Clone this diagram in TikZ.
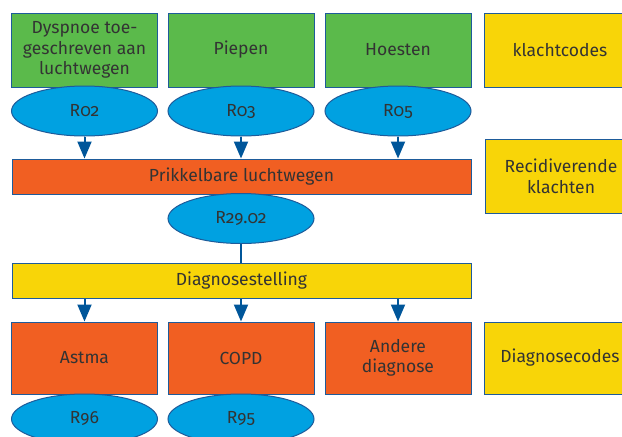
\documentclass[tikz,border=0pt]{standalone}
\usepackage{fontspec}
\setmainfont{Fira Sans}[Numbers=OldStyle]
\usetikzlibrary{shapes.geometric,arrows.meta}
\definecolor{cgreen}{HTML}{5BBA4B}
\definecolor{corange}{HTML}{F15F22}
\definecolor{cyellow}{HTML}{F8D508}
\definecolor{cblue}{HTML}{00A1E1}
\definecolor{cborder}{HTML}{1E5B9A}
\definecolor{carrow}{HTML}{00569A}
\definecolor{ctext}{HTML}{333333}
\tikzset{
  txt/.style={text=ctext, font=\fontsize{17.5}{20.5}\selectfont, inner sep=0pt},
  box/.style={txt, draw=cborder, line width=1pt, minimum width=146pt, minimum height=74pt, align=center},
  gbox/.style={box, fill=cgreen},
  obox/.style={box, fill=corange},
  ybox/.style={box, fill=cyellow, minimum width=152pt},
  bar/.style={txt, draw=cborder, line width=1pt, minimum width=459pt, minimum height=35pt},
  code/.style={txt, ellipse, draw=cborder, line width=1pt, fill=cblue, minimum width=146pt, minimum height=50pt},
  arr/.style={draw=carrow, line width=2pt, -{Triangle[width=14pt,length=17pt]}},
  conn/.style={draw=carrow, line width=2pt}
}
\begin{document}
\begin{tikzpicture}[x=1pt,y=-1pt]
\clip (0,0) rectangle (622,437);
\fill[white] (0,0) rectangle (622,437);
% top row
\node[gbox] (dys) at (84.5,50) {Dyspnoe toe-\\geschreven aan\\luchtwegen};
\node[gbox] (pie) at (241,50) {Piepen};
\node[gbox] (hoe) at (398,50) {Hoesten};
\node[ybox] (kla) at (560,50) {klachtcodes};
\node[code] (r02) at (84.5,111) {R02};
\node[code] (r03) at (241,111) {R03};
\node[code] (r05) at (398,111) {R05};
% bar 1
\node[bar, fill=corange] (pri) at (241.5,176.5) {Prikkelbare luchtwegen};
\node[ybox] (rec) at (561,176.5) {Recidiverende\\klachten};
\node[code] (r29) at (241,218.5) {R29.02};
% bar 2
\node[bar, fill=cyellow] (dia) at (241.5,281) {Diagnosestelling};
% bottom row
\node[obox, minimum height=72pt] (ast) at (84.5,358) {Astma};
\node[obox, minimum height=72pt] (cop) at (241,358) {COPD};
\node[obox, minimum height=72pt] (and) at (398,358) {Andere\\diagnose};
\node[ybox, minimum height=72pt] (dco) at (560,358) {Diagnosecodes};
\node[code] (r96) at (84.5,419) {R96};
\node[code] (r95) at (241,419) {R95};
% connectors
\draw[arr] (r02.south) -- (r02.south |- pri.north);
\draw[arr] (r03.south) -- (r03.south |- pri.north);
\draw[arr] (r05.south) -- (r05.south |- pri.north);
\draw[conn] (r29.south) -- (r29.south |- dia.north);
\draw[arr] (dia.south -| ast.north) -- (ast.north);
\draw[arr] (dia.south -| cop.north) -- (cop.north);
\draw[arr] (dia.south -| and.north) -- (and.north);
\end{tikzpicture}
\end{document}
